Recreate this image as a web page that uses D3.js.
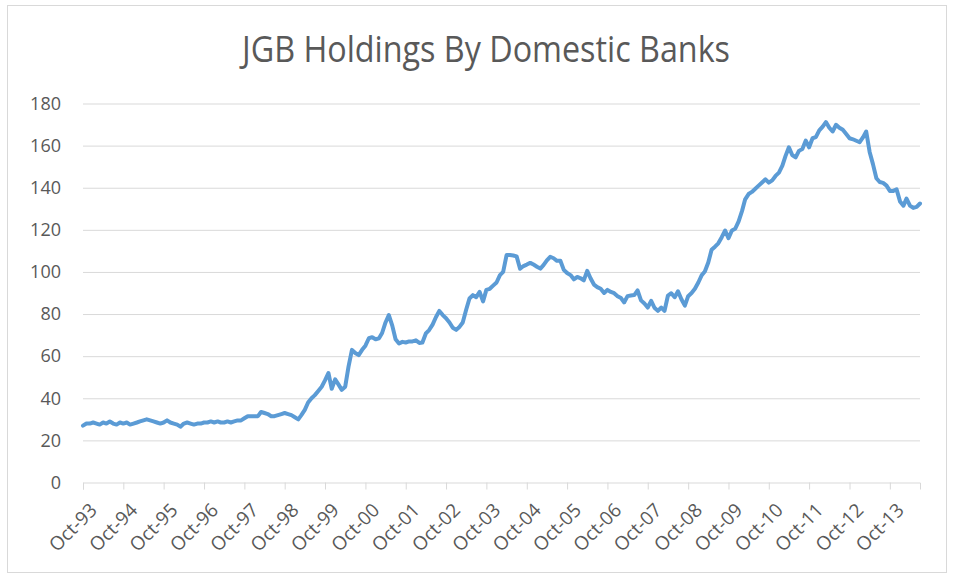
<!DOCTYPE html>
<html>
<head>
<meta charset="utf-8">
<script src="https://cdn.jsdelivr.net/npm/d3@7"></script>
<style>
  body { margin: 0; background: #fff; }
  svg { display: block; font-family: "Open Sans", sans-serif; }
</style>
</head>
<body>
<svg id="jgb-chart" width="955" height="578"></svg>
<script>
const chartTitle = "JGB Holdings By Domestic Banks";
const firstMonth = new Date(1993, 9, 1); // Oct-93

// monthly holdings, one row per Oct..Sep year
const holdings = [
  27, 28, 28, 28.5, 28, 27.5, 28.5, 28, 29, 28, 27.5, 28.5,            // Oct-93
  28, 28.5, 27.5, 28, 28.5, 29, 29.5, 30, 29.5, 29, 28.5, 28,          // Oct-94
  28.5, 29.5, 28.5, 28, 27.5, 26.5, 28, 28.5, 28, 27.5, 28, 28,        // Oct-95
  28.5, 28.5, 29, 28.5, 29, 28.5, 28.5, 29, 28.5, 29, 29.5, 29.5,      // Oct-96
  30.5, 31.5, 31.5, 31.5, 31.5, 33.5, 33, 32.5, 31.5, 31.5, 32, 32.5,  // Oct-97
  33, 32.5, 32, 31, 30, 32, 34.5, 38, 40, 41.5, 43.5, 45.5,            // Oct-98
  48.5, 52, 44.5, 49, 46.5, 44, 45.5, 55, 63, 61.5, 60.5, 63,          // Oct-99
  65, 68.5, 69, 68, 68.5, 71, 76, 79.5, 74.5, 68, 66, 66.8,            // Oct-00
  66.5, 67, 67, 67.5, 66.3, 66.5, 70.8, 72.4, 75, 78.5, 81.5, 79.5,    // Oct-01
  78, 76, 73.5, 72.5, 74, 76, 82, 87.4, 89, 88, 90.5, 86,              // Oct-02
  91.5, 92, 93.5, 95, 98.5, 100, 108, 108, 107.8, 107.4, 101.5, 102.8, // Oct-03
  103.5, 104.3, 103.5, 102.5, 101.6, 103.2, 105.5, 107.2, 106.5, 105.3, 105.3, 101, // Oct-04
  99.5, 98.5, 96.5, 97.6, 97, 96, 100.5, 97, 94, 92.8, 92, 90,         // Oct-05
  91.5, 90.5, 89.9, 88.5, 87.6, 85.5, 88.5, 88.8, 89, 91.2, 86.5, 85,  // Oct-06
  83.1, 86.3, 83, 81.5, 83.1, 81.5, 88.8, 89.9, 88, 90.8, 87, 84,      // Oct-07
  88.5, 90, 92, 95, 98.5, 100.2, 104.5, 110.5, 112, 113.6, 116.5, 119.7, // Oct-08
  116, 119.7, 120.5, 124, 129, 134.5, 137, 138, 139.5, 141, 142.5, 144,  // Oct-09
  142.4, 143.5, 145.6, 147.2, 150.5, 155, 159.2, 155.5, 154.4, 157.5, 158.4, 162.4, // Oct-10
  159.2, 163.5, 164, 167.2, 169, 171.2, 168.5, 166.7, 169.9, 168.5, 167.5, 165.5,   // Oct-11
  163.5, 163, 162.3, 161.6, 164, 166.7, 157, 151.2, 144.5, 142.7, 142.3, 141,       // Oct-12
  138.5, 138.5, 139.2, 133.5, 131.5, 134.8, 131.5, 130.4, 130.9, 132.5              // Oct-13
];
const yTicks = [0, 20, 40, 60, 80, 100, 120, 140, 160, 180];

const svg = d3.select("#jgb-chart");
const margin = { top: 103.5, right: 35, bottom: 95.5, left: 83 };
const plotW = +svg.attr("width") - margin.left - margin.right;
const plotH = +svg.attr("height") - margin.top - margin.bottom;

const series = holdings.map((v, i) => ({ date: d3.timeMonth.offset(firstMonth, i), value: v }));

// outer chart frame
svg.append("rect")
  .attr("x", 7.5).attr("y", 5.5)
  .attr("width", 939).attr("height", 567)
  .attr("fill", "#fff")
  .attr("stroke", "#d9d9d9");

svg.append("text")
  .attr("x", 486)
  .attr("y", 62)
  .attr("text-anchor", "middle")
  .attr("textLength", 488)
  .attr("lengthAdjust", "spacingAndGlyphs")
  .style("font-size", "36px")
  .style("fill", "#595959")
  .text(chartTitle);

const g = svg.append("g")
  .attr("transform", `translate(${margin.left},${margin.top})`);

const x = d3.scaleTime()
  .domain(d3.extent(series, d => d.date))
  .range([0, plotW]);

const y = d3.scaleLinear()
  .domain([0, 180])
  .range([plotH, 0]);

// horizontal gridlines + y labels
const yAxis = g.append("g")
  .call(d3.axisLeft(y).tickValues(yTicks).tickSize(-plotW).tickPadding(22))
  .style("font-size", "18px");
yAxis.select(".domain").remove();
yAxis.selectAll(".tick line").attr("stroke", "#d9d9d9");
yAxis.selectAll(".tick").filter(d => d === 0).select("line").remove();
yAxis.selectAll(".tick text").attr("fill", "#595959").style("font-family", "Open Sans");

// category axis with yearly ticks at October
const octobers = series.filter(d => d.date.getMonth() === 9).map(d => d.date);
const xAxis = g.append("g")
  .attr("transform", `translate(0,${plotH})`)
  .call(d3.axisBottom(x).tickValues(octobers).tickFormat(d3.timeFormat("%b-%y")).tickSizeOuter(0).tickSize(7))
  .style("font-size", "19px");
xAxis.select(".domain").attr("stroke", "#d9d9d9");
xAxis.selectAll(".tick line").attr("stroke", "#d9d9d9");
xAxis.selectAll(".tick text")
  .attr("fill", "#595959")
  .style("font-family", "Open Sans")
  .attr("text-anchor", "end")
  .attr("dy", "0.35em")
  .attr("transform", "translate(3,17) rotate(-45)");

const line = d3.line()
  .x(d => x(d.date))
  .y(d => y(d.value));

g.append("path")
  .datum(series)
  .attr("fill", "none")
  .attr("stroke", "#5b9bd5")
  .attr("stroke-width", 4)
  .attr("stroke-linejoin", "round")
  .attr("stroke-linecap", "round")
  .attr("d", line);
</script>
</body>
</html>
